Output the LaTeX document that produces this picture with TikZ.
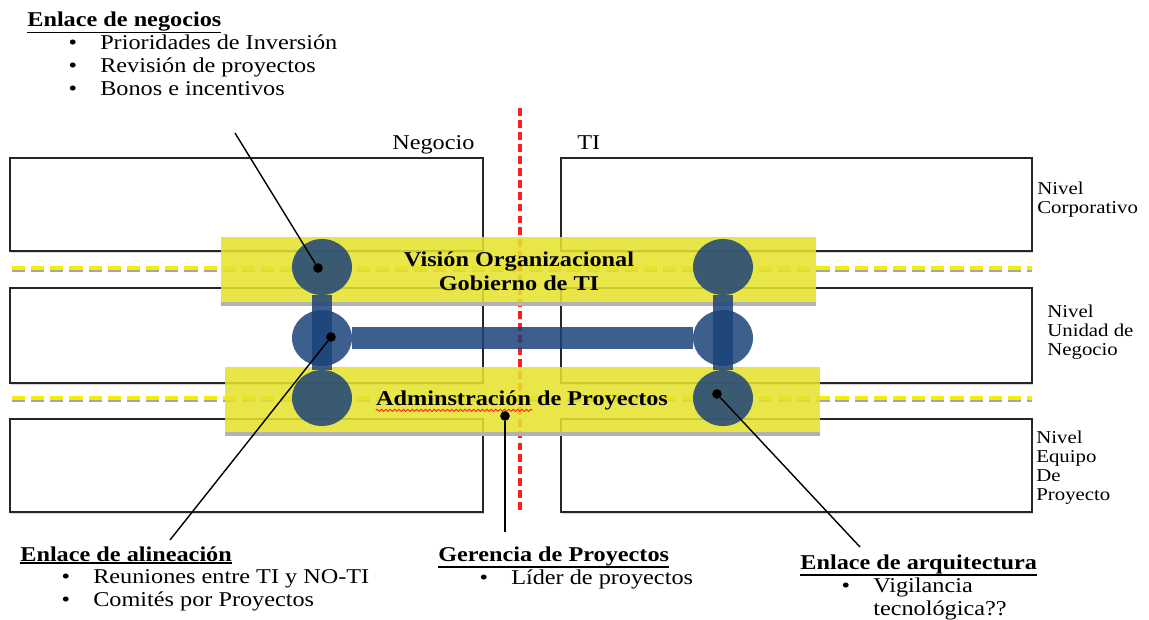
\documentclass[tikz,border=0pt]{standalone}
\usepackage{fontspec}
\setmainfont[FakeStretch=1.15]{Liberation Serif}
\usetikzlibrary{positioning,shapes.geometric,shadows,calc,decorations.pathmorphing}
\definecolor{bandyellow}{RGB}{229,226,46}
\definecolor{linkblue}{RGB}{28,67,122}
\definecolor{sepyellow}{RGB}{245,238,0}
\definecolor{cutred}{RGB}{255,30,30}
\newcommand{\titulo}[1]{\sbox0{\textbf{#1}}\rlap{\rule[\dimexpr-\dp0-1.6pt\relax]{\wd0}{1.1pt}}\usebox0}

\begin{document}
\begin{tikzpicture}[x=0.02cm,y=-0.02cm,font=\fontsize{12}{13}\selectfont,
    nivel/.style={draw=black!85,fill=white,line width=0.8pt,drop shadow={shadow xshift=0.6pt,shadow yshift=-1.2pt,fill=black!30}},
    sep/.style={line width=2.2pt,dash pattern=on 7.5pt off 3.4pt},
    band/.style={rectangle,fill=bandyellow,fill opacity=0.87,inner sep=0,minimum width=11.9cm,minimum height=1.3cm},
    link/.style={ellipse,fill=linkblue,fill opacity=0.85,inner sep=0,minimum width=1.2cm,minimum height=1.12cm},
    bar/.style={draw=linkblue,draw opacity=0.85,line width=11pt},
    dot/.style={circle,fill=black,inner sep=0,minimum size=5.5pt},
    pointer/.style={draw=black,line width=0.8pt},
    txt/.style={inner sep=0,align=left},
    bandtxt/.style={inner sep=0,align=center,font=\fontsize{12}{13.6}\selectfont\bfseries},
    side/.style={inner sep=0,anchor=base west,font=\fontsize{10.3}{11}\selectfont}]
    \useasboundingbox (0,0) rectangle (1149,619);

    % niveles
    \foreach \top/\bot in {158/251,288/383,419/512} {
        \draw[nivel] (10,\top) rectangle (483,\bot);
        \draw[nivel] (561,\top) rectangle (1032,\bot);
    }
    \foreach \y in {268,398} {
        \draw[sep,black!35] (12,\y+2) -- (1032,\y+2);
        \draw[sep,sepyellow] (12,\y) -- (1032,\y);
    }
    \draw[cutred,line width=2.2pt,dash pattern=on 4.5pt off 2.3pt] (520,108) -- (520,512);

    \node[txt,anchor=base west] (negocio) at (392,149) {Negocio};
    \node[txt,anchor=base west] (ti) at (577,149) {TI};

    % bandas
    \node[band] (vision) at (518.5,269.5) {};
    \node[band] (proyectos) at (522.5,399.5) {};
    \fill[black!30] (vision.south west) rectangle ([yshift=-2pt]vision.south east);
    \fill[black!30] (proyectos.south west) rectangle ([yshift=-2pt]proyectos.south east);

    % enlaces
    \node[link] (lt) at (322,267) {};
    \node[link] (lm) at (322,338) {};
    \node[link] (lb) at (322,398) {};
    \node[link] (rt) at (723,267) {};
    \node[link] (rm) at (723,338) {};
    \node[link] (rb) at (723,398) {};
    \draw[bar] (lt) -- (lb);
    \draw[bar] (rt) -- (rb);
    \draw[bar,line width=12.5pt] (lm) -- (rm);

    \node[bandtxt] (gobierno) at (519,271) {Visión Organizacional\\Gobierno de TI};
    \node[bandtxt] (admin) at (522,400) {Adminstración de Proyectos};
    \draw[cutred,line width=0.5pt,decorate,decoration={snake,amplitude=0.6pt,segment length=2.5pt}]
        ([yshift=-3pt]admin.base west) -- ([yshift=-3pt]$(admin.base west)!0.535!(admin.base east)$);

    % etiquetas de nivel
    \node[side] (corp) at (1037,194)
        {\begin{tabular}[t]{@{}l}Nivel\\Corporativo\end{tabular}};
    \node[side] (unidad) at (1047,317)
        {\begin{tabular}[t]{@{}l}Nivel\\Unidad de\\Negocio\end{tabular}};
    \node[side] (equipo) at (1036,443)
        {\begin{tabular}[t]{@{}l}Nivel\\Equipo\\De\\Proyecto\end{tabular}};

    % enlaces de texto
    \node[txt,anchor=base west] (negocios) at (27,26)
        {\begin{tabular}[t]{@{\hspace{23.5pt}}p{18pt}@{}l}
         \multicolumn{2}{@{}l}{\titulo{Enlace de negocios}}\\
         \textbullet & Prioridades de Inversión\\
         \textbullet & Revisión de proyectos\\
         \textbullet & Bonos e incentivos
         \end{tabular}};
    \node[txt,anchor=base west] (alineacion) at (20,561)
        {\begin{tabular}[t]{@{\hspace{23.5pt}}p{18pt}@{}l}
         \multicolumn{2}{@{}l}{\titulo{Enlace de alineación}}\\
         \textbullet & Reuniones entre TI y NO-TI\\
         \textbullet & Comités por Proyectos
         \end{tabular}};
    \node[txt,anchor=base west] (gerencia) at (438,561)
        {\begin{tabular}[t]{@{\hspace{23.5pt}}p{18pt}@{}l}
         \multicolumn{2}{@{}l}{\titulo{Gerencia de Proyectos}}\\
         \textbullet & Líder de proyectos
         \end{tabular}};
    \node[txt,anchor=base west] (arquitectura) at (800,569)
        {\begin{tabular}[t]{@{\hspace{23.5pt}}p{18pt}@{}l}
         \multicolumn{2}{@{}l}{\titulo{Enlace de arquitectura}}\\
         \textbullet & Vigilancia\\
         & tecnológica??
         \end{tabular}};

    % punteros
    \node[dot] (dneg) at (318,268) {};
    \node[dot] (dali) at (331,337) {};
    \node[dot] (dger) at (505,416) {};
    \node[dot] (darq) at (717,394) {};
    \coordinate (pneg) at (235,133);
    \coordinate (pali) at (170,540);
    \coordinate (pger) at (505,532);
    \coordinate (parq) at (860,547);
    \draw[pointer] (pneg) -- (dneg);
    \draw[pointer] (pali) -- (dali);
    \draw[pointer] (pger) -- (dger);
    \draw[pointer] (parq) -- (darq);
\end{tikzpicture}
\end{document}
